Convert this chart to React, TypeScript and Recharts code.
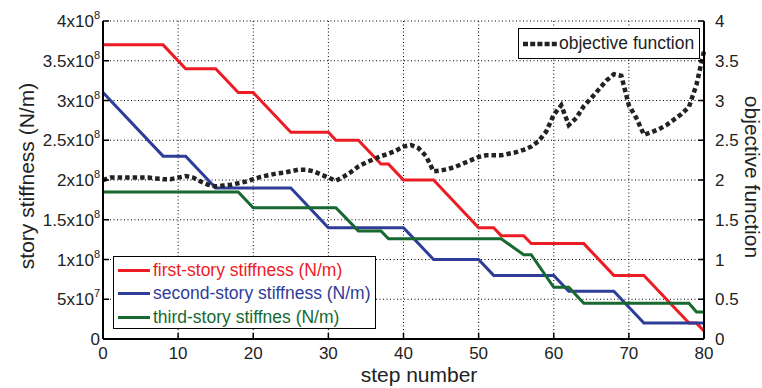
import { LineChart, Line, XAxis, YAxis, CartesianGrid } from "recharts";

// stiffness breakpoints (step number, N/m)
const firstSteps = [0, 8, 11, 15, 18, 20, 25, 30, 31, 34, 37, 38, 40, 44, 50, 52, 53, 56, 57, 64, 68, 72, 78, 79, 80];
const firstStiffness = [3.7e8, 3.7e8, 3.4e8, 3.4e8, 3.1e8, 3.1e8, 2.6e8, 2.6e8, 2.5e8, 2.5e8, 2.2e8, 2.2e8, 2.0e8, 2.0e8, 1.4e8, 1.4e8, 1.3e8, 1.3e8, 1.2e8, 1.2e8, 0.8e8, 0.8e8, 0.2e8, 0.2e8, 0.1e8];

const secondSteps = [0, 8, 11, 15, 25, 30, 40, 44, 50, 52, 60, 62, 68, 72, 80];
const secondStiffness = [3.1e8, 2.3e8, 2.3e8, 1.9e8, 1.9e8, 1.4e8, 1.4e8, 1.0e8, 1.0e8, 0.8e8, 0.8e8, 0.6e8, 0.6e8, 0.2e8, 0.2e8];

const thirdSteps = [0, 18, 20, 31, 34, 37, 38, 53, 56, 57, 60, 62, 64, 78, 79, 80];
const thirdStiffness = [1.85e8, 1.85e8, 1.65e8, 1.65e8, 1.36e8, 1.36e8, 1.26e8, 1.26e8, 1.06e8, 1.06e8, 0.65e8, 0.65e8, 0.45e8, 0.45e8, 0.34e8, 0.34e8];

// objective function, one value per step 0..80
const objective = [
  2.0, 2.03, 2.03, 2.03, 2.03, 2.03, 2.03, 2.02, 2.01, 2.01,
  2.03, 2.05, 2.03, 1.98, 1.94, 1.92, 1.93, 1.94, 1.96, 1.98,
  2.01, 2.04, 2.06, 2.08, 2.09, 2.11, 2.13, 2.13, 2.11, 2.07,
  2.03, 1.99, 2.04, 2.1, 2.17, 2.22, 2.26, 2.3, 2.33, 2.37,
  2.42, 2.44, 2.4, 2.3, 2.11, 2.12, 2.14, 2.17, 2.21, 2.25,
  2.29, 2.31, 2.31, 2.31, 2.33, 2.35, 2.38, 2.42, 2.49, 2.61,
  2.82, 2.94, 2.69, 2.78, 2.93, 3.03, 3.14, 3.25, 3.33, 3.31,
  2.94, 2.78, 2.57, 2.6, 2.64, 2.69, 2.76, 2.83, 2.92, 3.2,
  3.62,
];

const stepTicks = [0, 10, 20, 30, 40, 50, 60, 70, 80];
const stiffTicks = [0, 5e7, 1e8, 1.5e8, 2e8, 2.5e8, 3e8, 3.5e8, 4e8];
const stiffMantissa = ["0", "5", "1", "1.5", "2", "2.5", "3", "3.5", "4"];
const stiffExponent = ["", "7", "8", "8", "8", "8", "8", "8", "8"];
const objTicks = [0, 0.5, 1, 1.5, 2, 2.5, 3, 3.5, 4];
const objTickLabels = ["0", "0.5", "1", "1.5", "2", "2.5", "3", "3.5", "4"];

const RED = "#ed1c24";
const BLUE = "#2e3d98";
const GREEN = "#17692f";
const INK = "#222";
const FONT = "'Liberation Sans', Arial, sans-serif";

const firstData = firstSteps.map((s, i) => ({ step: s, value: firstStiffness[i] }));
const secondData = secondSteps.map((s, i) => ({ step: s, value: secondStiffness[i] }));
const thirdData = thirdSteps.map((s, i) => ({ step: s, value: thirdStiffness[i] }));
const objectiveData = objective.map((v, i) => ({ step: i, value: v }));

function LeftTick({ x, y, index }: any) {
  const exp = stiffExponent[index];
  return (
    <g>
      <line x1={x} y1={y} x2={x + 6} y2={y} stroke="#000" strokeWidth={1.5} />
      <text x={x - 3} y={y} textAnchor="end" fontSize={17} fill={INK} fontFamily={FONT}>
        <tspan dy={6}>{stiffMantissa[index] + (exp ? "x10" : "")}</tspan>
        {exp ? (
          <tspan dy={-8} fontSize={11}>
            {exp}
          </tspan>
        ) : null}
      </text>
    </g>
  );
}

function RightTick({ x, y, index }: any) {
  return (
    <g>
      <line x1={x} y1={y} x2={x - 6} y2={y} stroke="#000" strokeWidth={1.5} />
      <text x={x + 11} y={y + 6} textAnchor="start" fontSize={17} fill={INK} fontFamily={FONT}>
        {objTickLabels[index]}
      </text>
    </g>
  );
}

function BottomTick({ x, y, payload }: any) {
  return (
    <g>
      <line x1={x} y1={y} x2={x} y2={y - 6} stroke="#000" strokeWidth={1.5} />
      <text x={x} y={y + 20} textAnchor="middle" fontSize={17} fill={INK} fontFamily={FONT}>
        {payload.value}
      </text>
    </g>
  );
}

function TopTick({ x, y }: any) {
  return <line x1={x} y1={y} x2={x} y2={y + 6} stroke="#000" strokeWidth={1.5} />;
}

const legendRows = [
  { label: "first-story stiffness (N/m)", color: RED },
  { label: "second-story stiffness (N/m)", color: BLUE },
  { label: "third-story stiffnes (N/m)", color: GREEN },
];

export default function App() {
  return (
    <div style={{ position: "absolute", left: 0, top: 0, width: 762, height: 388, background: "#fff", fontFamily: FONT }}>
      <LineChart width={762} height={388} margin={{ top: 21, right: 0, bottom: 0, left: 0 }}>
        <CartesianGrid stroke="#000" strokeDasharray="1 2.5" strokeWidth={1} />
        <XAxis
          dataKey="step"
          type="number"
          domain={[0, 80]}
          ticks={stepTicks}
          interval={0}
          height={49}
          tickSize={0}
          tickMargin={0}
          tickLine={false}
          axisLine={{ stroke: "#000", strokeWidth: 2 }}
          tick={(p: any) => <BottomTick {...p} />}
        />
        <XAxis
          xAxisId="top"
          orientation="top"
          dataKey="step"
          type="number"
          domain={[0, 80]}
          ticks={stepTicks}
          interval={0}
          height={0}
          tickSize={0}
          tickMargin={0}
          tickLine={false}
          axisLine={{ stroke: "#000", strokeWidth: 2 }}
          tick={(p: any) => <TopTick {...p} />}
        />
        <YAxis
          type="number"
          domain={[0, 4e8]}
          ticks={stiffTicks}
          interval={0}
          width={103}
          tickSize={0}
          tickMargin={0}
          tickLine={false}
          axisLine={{ stroke: "#000", strokeWidth: 2 }}
          tick={(p: any) => <LeftTick {...p} />}
        />
        <YAxis
          yAxisId="right"
          orientation="right"
          type="number"
          domain={[0, 4]}
          ticks={objTicks}
          interval={0}
          width={58}
          tickSize={0}
          tickMargin={0}
          tickLine={false}
          axisLine={{ stroke: "#000", strokeWidth: 2 }}
          tick={(p: any) => <RightTick {...p} />}
        />
        <Line data={firstData} dataKey="value" type="linear" stroke={RED} strokeWidth={3} dot={false} isAnimationActive={false} />
        <Line data={secondData} dataKey="value" type="linear" stroke={BLUE} strokeWidth={3} dot={false} isAnimationActive={false} />
        <Line data={thirdData} dataKey="value" type="linear" stroke={GREEN} strokeWidth={3} dot={false} isAnimationActive={false} />
        <Line
          data={objectiveData}
          yAxisId="right"
          dataKey="value"
          type="linear"
          stroke={INK}
          strokeWidth={4.5}
          strokeDasharray="4.5 3"
          dot={false}
          isAnimationActive={false}
        />
        <text x={26} y={176} transform="rotate(-90 26 176)" textAnchor="middle" dominantBaseline="central" fontSize={21} fill={INK} fontFamily={FONT}>
          story stiffness (N/m)
        </text>
        <text x={752} y={177} transform="rotate(90 752 177)" textAnchor="middle" dominantBaseline="central" fontSize={21} fill={INK} fontFamily={FONT}>
          objective function
        </text>
        <text x={419} y={382} textAnchor="middle" fontSize={21} fill={INK} fontFamily={FONT}>
          step number
        </text>
      </LineChart>

      <div
        style={{
          position: "absolute",
          left: 113,
          top: 256,
          width: 263,
          height: 73,
          border: "1px solid #000",
          background: "#fff",
          boxSizing: "border-box",
        }}
      >
        {legendRows.map((r, i) => (
          <div key={r.label} style={{ position: "absolute", left: 4, top: 2 + i * 23.3, height: 23, display: "flex", alignItems: "center" }}>
            <span style={{ display: "inline-block", width: 32, height: 3, background: r.color, marginRight: 3 }} />
            <span style={{ color: r.color, fontSize: 17.5, whiteSpace: "nowrap" }}>{r.label}</span>
          </div>
        ))}
      </div>

      <div
        style={{
          position: "absolute",
          left: 518,
          top: 28,
          width: 182,
          height: 31,
          border: "1px solid #000",
          background: "#fff",
          boxSizing: "border-box",
          display: "flex",
          alignItems: "center",
        }}
      >
        <svg width={36} height={8} style={{ marginLeft: 4 }}>
          <line x1={0} y1={4} x2={34} y2={4} stroke={INK} strokeWidth={4.5} strokeDasharray="5 2.2" />
        </svg>
        <span style={{ color: INK, fontSize: 17.5, whiteSpace: "nowrap" }}>objective function</span>
      </div>
    </div>
  );
}
